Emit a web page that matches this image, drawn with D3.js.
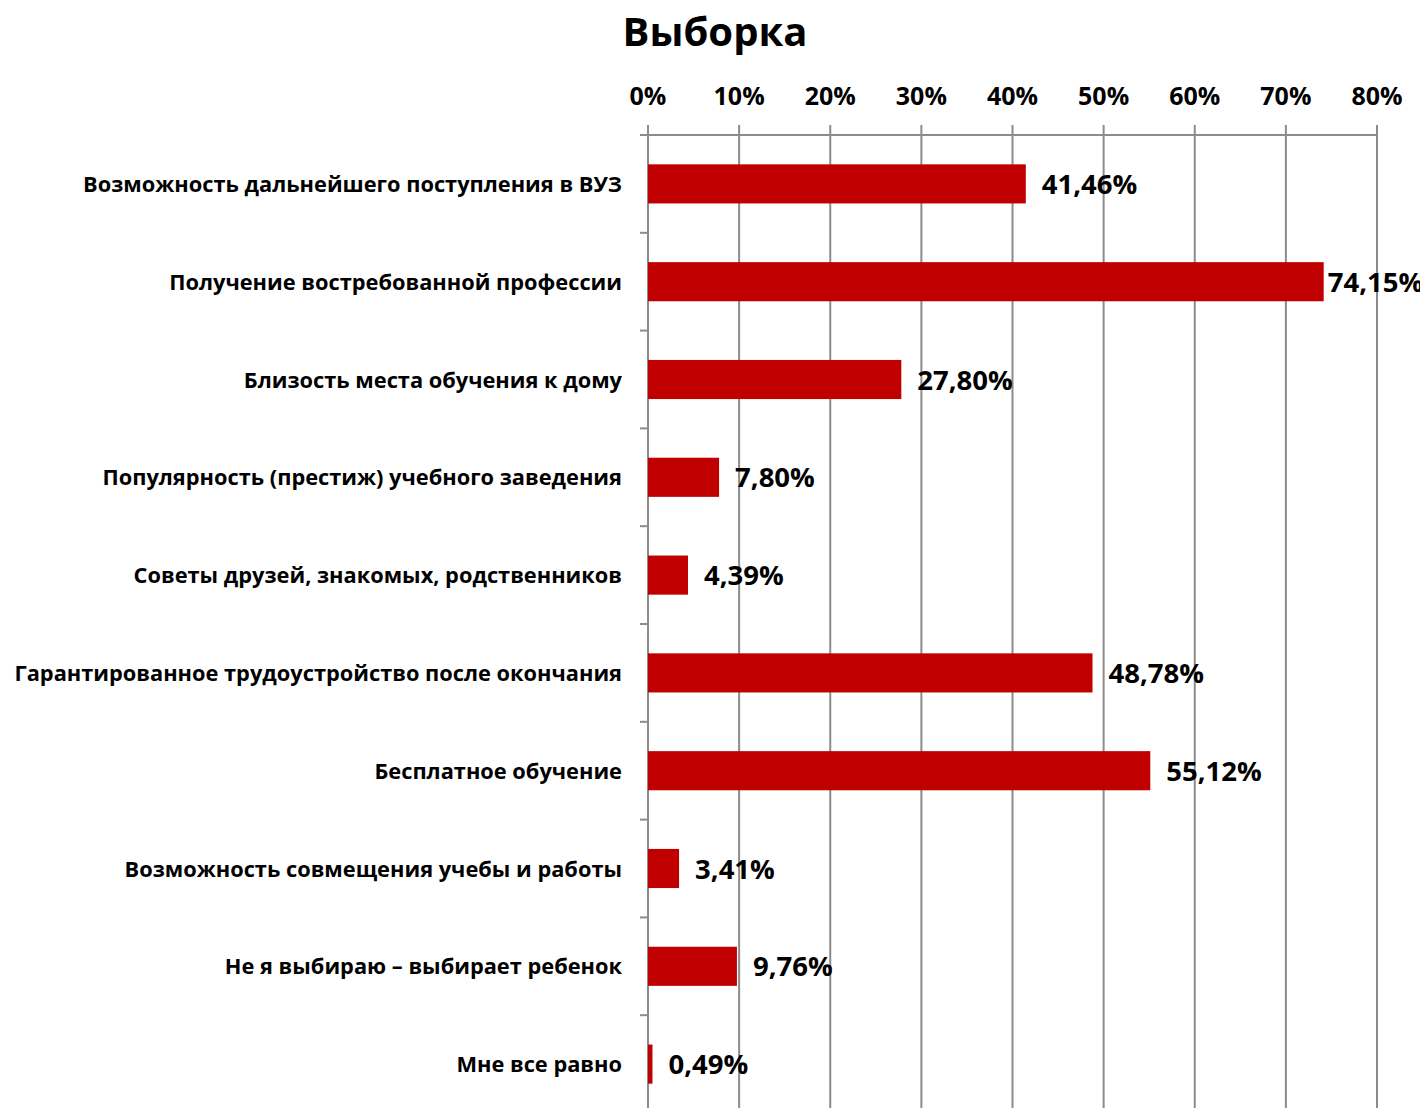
<!DOCTYPE html>
<html>
<head>
<meta charset="utf-8">
<script src="https://cdn.jsdelivr.net/npm/d3@7"></script>
<style>
  body { margin: 0; background: #fff; overflow: hidden; }
  text { font-family: "Open Sans", "Noto Sans", sans-serif; font-weight: 700; fill: #000; }
</style>
</head>
<body>
<div id="contents"></div>
<script>
var categories = [
    'Возможность дальнейшего поступления в ВУЗ',
    'Получение востребованной профессии',
    'Близость места обучения к дому',
    'Популярность (престиж) учебного заведения',
    'Советы друзей, знакомых, родственников',
    'Гарантированное трудоустройство после окончания',
    'Бесплатное обучение',
    'Возможность совмещения учебы и работы',
    'Не я выбираю – выбирает ребенок',
    'Мне все равно'
];
var values      = [41.46, 74.15, 27.80, 7.80, 4.39, 48.78, 55.12, 3.41, 9.76, 0.49];
var valueLabels = ['41,46%', '74,15%', '27,80%', '7,80%', '4,39%', '48,78%', '55,12%', '3,41%', '9,76%', '0,49%'];
var tickValues  = [0, 10, 20, 30, 40, 50, 60, 70, 80];

window.onload = function(){
    'use strict';
    var WIDTH   = 1420;
    var HEIGHT  = 1108;
    var LEFT    = 648;
    var RIGHT   = 1377;
    var TOP     = 135;
    var BAND    = 97.8;
    var GRID    = '#8c8c8c';
    var RED     = '#c00000';

    var svg = d3.select('#contents').append('svg')
        .attr('width', WIDTH)
        .attr('height', HEIGHT)
        .style('display', 'block');

    var x = d3.scaleLinear().domain([0, 80]).range([LEFT, RIGHT]);
    var y = d3.scaleBand()
        .domain(categories)
        .range([TOP, TOP + BAND * categories.length])
        .paddingInner(0.6)
        .paddingOuter(0.3);

    // title
    svg.append('text')
        .attr('x', 715)
        .attr('y', 46)
        .attr('text-anchor', 'middle')
        .attr('font-size', 40)
        .text('Выборка');

    // vertical gridlines
    svg.append('g')
        .selectAll('line')
        .data(tickValues)
        .enter()
        .append('line')
        .attr('x1', function(d){ return x(d); })
        .attr('x2', function(d){ return x(d); })
        .attr('y1', TOP - 10)
        .attr('y2', HEIGHT + 20)
        .attr('stroke', GRID)
        .attr('stroke-width', 2);

    // top axis line
    svg.append('line')
        .attr('x1', LEFT - 8).attr('x2', RIGHT)
        .attr('y1', TOP).attr('y2', TOP)
        .attr('stroke', GRID).attr('stroke-width', 2);

    // left category ticks
    svg.append('g')
        .selectAll('line')
        .data(d3.range(categories.length + 1))
        .enter()
        .append('line')
        .attr('x1', LEFT - 8).attr('x2', LEFT)
        .attr('y1', function(i){ return TOP + i * BAND; })
        .attr('y2', function(i){ return TOP + i * BAND; })
        .attr('stroke', GRID).attr('stroke-width', 2);

    // tick labels
    svg.append('g')
        .selectAll('text')
        .data(tickValues)
        .enter()
        .append('text')
        .attr('x', function(d){ return x(d); })
        .attr('y', 105)
        .attr('text-anchor', 'middle')
        .attr('font-size', 25)
        .text(function(d){ return d + '%'; });

    // bars
    svg.append('g')
        .selectAll('rect')
        .data(values)
        .enter()
        .append('rect')
        .attr('x', LEFT)
        .attr('y', function(d, i){ return y(categories[i]); })
        .attr('width', function(d){ return x(d) - LEFT; })
        .attr('height', y.bandwidth())
        .attr('fill', RED);

    // value labels (pulled in when near the right edge, as the source does)
    svg.append('g')
        .selectAll('text')
        .data(values)
        .enter()
        .append('text')
        .attr('x', function(d){ return x(d) > RIGHT - 80 ? x(d) + 4 : x(d) + 16; })
        .attr('y', function(d, i){ return y(categories[i]) + y.bandwidth() / 2 + 10; })
        .attr('font-size', 27.5)
        .text(function(d, i){ return valueLabels[i]; });

    // category labels
    svg.append('g')
        .selectAll('text')
        .data(categories)
        .enter()
        .append('text')
        .attr('x', 622)
        .attr('y', function(d){ return y(d) + y.bandwidth() / 2 + 8; })
        .attr('text-anchor', 'end')
        .attr('font-size', 21.8)
        .text(function(d){ return d; });
};
</script>
</body>
</html>
